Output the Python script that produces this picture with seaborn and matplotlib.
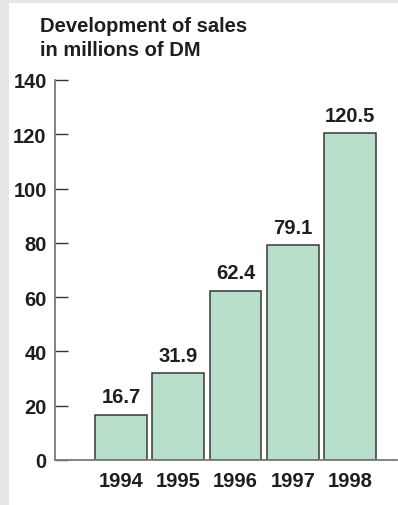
import matplotlib
matplotlib.use("Agg")
import matplotlib.pyplot as plt
import seaborn as sns

years = ["1994", "1995", "1996", "1997", "1998"]
sales = [16.7, 31.9, 62.4, 79.1, 120.5]
value_labels = ["16.7", "31.9", "62.4", "79.1", "120.5"]
yticks = [0, 20, 40, 60, 80, 100, 120, 140]
title = "Development of sales\nin millions of DM"

sns.set_theme(style="white")
plt.rcParams["font.family"] = ["Liberation Sans", "DejaVu Sans"]

bar_color = "#b8dfca"
text_color = "#1e1e1e"
W = "bold"
FS = 14.5

fig = plt.figure(figsize=(3.98, 5.06), dpi=100, facecolor="#e6e7e9")
# white panel behind everything
bg = fig.add_axes([9 / 398, 0, 1, (506 - 4) / 506], zorder=-1)
bg.set_facecolor("white")
bg.set_xticks([])
bg.set_yticks([])
for s in bg.spines.values():
    s.set_visible(False)

ax = fig.add_axes([55 / 398, 45 / 506, (397 - 55) / 398, (461 - 81) / 506])
ax.set_facecolor("none")

sns.barplot(x=years, y=sales, color=bar_color, edgecolor="#383838",
            linewidth=1.1, width=0.9, saturation=1, ax=ax)

ax.bar_label(ax.containers[0], labels=value_labels, padding=6,
             fontsize=FS, fontweight=W, color=text_color)

ax.set_xlim(-1.15, 4.82)
ax.set_ylim(0, 140)
ax.set_yticks(yticks)
ax.set_yticklabels([str(v) for v in yticks], fontsize=FS, fontweight=W,
                   color=text_color)
ax.set_xticks(range(len(years)))
ax.set_xticklabels(years, fontsize=FS, fontweight=W, color=text_color)
ax.set_xlabel("")
ax.set_ylabel("")

ax.tick_params(axis="y", direction="in", length=9.5, width=1.0,
               color="#333333", pad=6, left=True)
ax.tick_params(axis="x", length=0, pad=8)

for side in ["top", "right"]:
    ax.spines[side].set_visible(False)
for side in ["left", "bottom"]:
    ax.spines[side].set_color("#7a7a7a")
    ax.spines[side].set_linewidth(1.3)

fig.text(40 / 398, 1 - 17 / 506, title, ha="left", va="top",
         fontsize=14.5, fontweight=W, color=text_color, linespacing=1.3)

fig.savefig("out.png", dpi=100, facecolor=fig.get_facecolor())
